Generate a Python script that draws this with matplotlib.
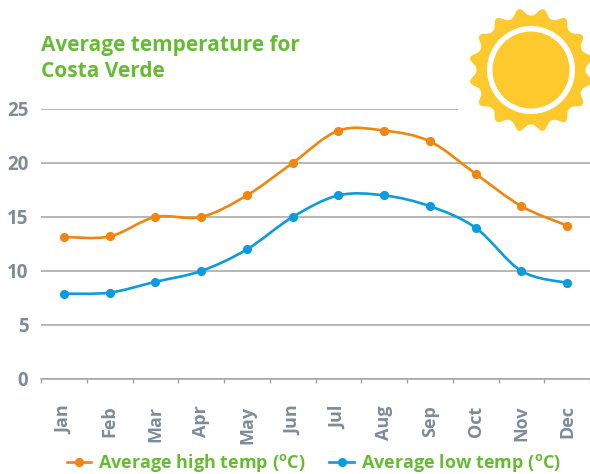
import numpy as np
import matplotlib
matplotlib.use("Agg")
import matplotlib.pyplot as plt
from matplotlib.path import Path
from matplotlib.patches import PathPatch, Polygon, Circle
from matplotlib.lines import Line2D

plt.rcParams['font.family'] = ['Open Sans', 'DejaVu Sans']
plt.rcParams['mathtext.fontset'] = 'custom'
plt.rcParams['mathtext.rm'] = 'Open Sans:bold'

months = ["Jan", "Feb", "Mar", "Apr", "May", "Jun", "Jul", "Aug", "Sep", "Oct", "Nov", "Dec"]
high_temp = [13.15, 13.2, 15, 15, 17, 20, 23, 23, 22, 19, 16, 14.2]
low_temp = [7.9, 8, 9, 10, 12, 15, 17, 17, 16, 14, 10, 8.9]
y_ticks = [0, 5, 10, 15, 20, 25]

GREEN = "#66bb33"
ORANGE = "#f0860f"
BLUE = "#0c9bdc"
GREY_TEXT = "#7d8c98"
GRID = "#a3a3a3"
SUN = "#fdc92c"


# smooth curve through the points, drawn as bezier segments
def smooth_path(xs, ys, k=1 / 6):
    pts = np.column_stack([xs, ys])
    verts = [pts[0]]
    codes = [Path.MOVETO]
    for i in range(len(pts) - 1):
        p0 = pts[max(i - 1, 0)]
        p1 = pts[i]
        p2 = pts[i + 1]
        p3 = pts[min(i + 2, len(pts) - 1)]
        verts += [p1 + (p2 - p0) * k, p2 - (p3 - p1) * k, p2]
        codes += [Path.CURVE4, Path.CURVE4, Path.CURVE4]
    return Path(verts, codes)


fig = plt.figure(figsize=(5.9, 4.74), dpi=100)
ax = fig.add_axes([41 / 590, 1 - 379 / 474, 549 / 590, 270 / 474])

x = np.arange(len(months))
for vals, color in [(high_temp, ORANGE), (low_temp, BLUE)]:
    ax.add_patch(PathPatch(smooth_path(x, vals), fc="none", ec=color, lw=1.9, zorder=3))
    ax.plot(x, vals, ls="none", marker="o", ms=6.6, color=color, mec="none", zorder=4)

ax.set_xlim(-0.5, 11.5)
ax.set_ylim(0, 25)
ax.set_yticks(y_ticks)
ax.set_xticks(x)
ax.set_xticklabels(months, rotation=90)
ax.set_xticks(np.arange(-0.5, 12, 1), minor=True)
ax.tick_params(axis="x", which="major", length=0, pad=19, labelsize=13, labelcolor=GREY_TEXT)
ax.tick_params(axis="x", which="minor", length=3, width=1, color=GRID)
ax.tick_params(axis="y", length=0, pad=9, labelsize=13.5, labelcolor=GREY_TEXT)
for lab in ax.get_xticklabels() + ax.get_yticklabels():
    lab.set_fontweight("bold")
ax.yaxis.grid(True, color=GRID, lw=1.1)
ax.set_axisbelow(True)
for s in ["top", "right", "left"]:
    ax.spines[s].set_visible(False)
ax.spines["bottom"].set_color(GRID)
ax.spines["bottom"].set_linewidth(1.1)

fig.text(41 / 590, 1 - 58.5 / 474, "Average temperature for\nCosta Verde", color=GREEN,
         fontsize=15, fontweight="bold", va="center", ha="left", linespacing=1.36)

handles = [
    Line2D([], [], color=ORANGE, lw=1.9, marker="o", ms=6.6, mec="none"),
    Line2D([], [], color=BLUE, lw=1.9, marker="o", ms=6.6, mec="none"),
]
leg_labels = [r"Average high temp ($^{\mathrm{o}}$C)", r"Average low temp ($^{\mathrm{o}}$C)"]
leg = fig.legend(handles, leg_labels, loc="center", bbox_to_anchor=(314 / 590, 1 - 463.5 / 474), ncol=2,
                 frameon=False, fontsize=13, handlelength=1.35, handletextpad=0.4, columnspacing=1.3,
                 labelcolor=GREEN, borderpad=0)
for t in leg.get_texts():
    t.set_fontweight("bold")

# sun, in pixel coordinates on top of the chart
over = fig.add_axes([0, 0, 1, 1], facecolor="none")
over.set_xlim(0, 590)
over.set_ylim(474, 0)
over.axis("off")
cx, cy = 531, 70
over.add_patch(Circle((cx, cy), 83, fc="white", ec="none"))
ang = np.linspace(0, 2 * np.pi, 1440, endpoint=False)
tooth = (1 - np.cos(16 * (ang - np.pi / 2))) / 2
rad = 54.5 + 7.5 * tooth ** 1.4
over.add_patch(Polygon(np.column_stack([cx + rad * np.cos(ang), cy + rad * np.sin(ang)]), fc=SUN, ec="none"))
over.add_patch(Circle((cx, cy), 44, fc="white", ec="none"))
over.add_patch(Circle((cx, cy), 38.5, fc=SUN, ec="none"))

fig.savefig("out.png", dpi=100)
